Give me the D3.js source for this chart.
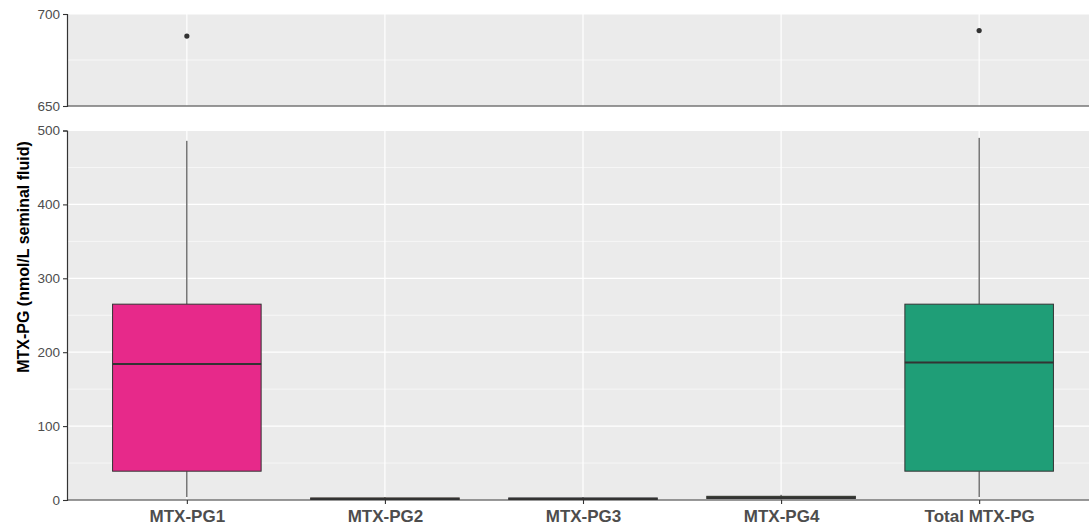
<!DOCTYPE html>
<html>
<head>
<meta charset="utf-8">
<script src="https://cdn.jsdelivr.net/npm/d3@7"></script>
<style>
  html, body { margin: 0; padding: 0; background: #fff; }
  svg { display: block; font-family: "Liberation Sans", Arial, sans-serif; }
</style>
</head>
<body>
<svg id="chart" width="1089" height="527"></svg>
<script>
// ---- data ----
const categories = ["MTX-PG1", "MTX-PG2", "MTX-PG3", "MTX-PG4", "Total MTX-PG"];
const lowerWhisker = [4, 0.3, 0.3, 0.8, 4];
const q1 = [39, 0.8, 0.8, 2, 39];
const median = [184, 1.5, 1.5, 3.5, 186];
const q3 = [265, 2.8, 2.8, 5, 265];
const upperWhisker = [486, 4, 4, 7, 490];
const outliers = [[688], [], [], [], [691]];
const fills = ["#E7298A", "#D95F02", "#7570B3", "#66A61E", "#1F9E77"];
const lowerTicks = [0, 100, 200, 300, 400, 500];
const lowerMinor = [50, 150, 250, 350, 450];
const upperTicks = [650, 700];
const upperMinor = [675];
const yTitle = "MTX-PG (nmol/L seminal fluid)";

// ---- layout ----
const svg = d3.select("#chart");
const left = 67;
const x = d3.scalePoint().domain(categories).range([68, 1098]).padding(0.6);
const step = x.step();
const boxW = step * 0.75;
const right = 1098;

const yTop = d3.scaleLinear().domain([650, 700]).range([106, 14]);
const yBot = d3.scaleLinear().domain([0, 500]).range([500, 130.5]);

const panelBg = "#EBEBEB";
const axisCol = "#333333";
const tickText = "#4D4D4D";

function panel(y, majors, minors) {
  const [y0, y1] = y.range();
  const g = svg.append("g");
  g.append("rect").attr("x", left).attr("y", y1).attr("width", right - left).attr("height", y0 - y1).attr("fill", panelBg);
  g.selectAll(".mn").data(minors).join("line")
    .attr("x1", left).attr("x2", right).attr("y1", d => y(d)).attr("y2", d => y(d))
    .attr("stroke", "#fff").attr("stroke-width", 0.6);
  g.selectAll(".mj").data(majors).join("line")
    .attr("x1", left).attr("x2", right).attr("y1", d => y(d)).attr("y2", d => y(d))
    .attr("stroke", "#fff").attr("stroke-width", 1.2);
  g.selectAll(".vx").data(categories).join("line")
    .attr("x1", d => x(d)).attr("x2", d => x(d)).attr("y1", y1).attr("y2", y0)
    .attr("stroke", "#fff").attr("stroke-width", 1.2);
  return g;
}

panel(yTop, upperTicks, upperMinor);
panel(yBot, lowerTicks, lowerMinor);

// ---- boxes (lower panel) ----
const data = categories.map((c, i) => ({
  c, lw: lowerWhisker[i], q1: q1[i], med: median[i], q3: q3[i], uw: upperWhisker[i], out: outliers[i], fill: fills[i]
}));
const gb = svg.append("g");
const bg = gb.selectAll("g").data(data).join("g");
bg.append("line")
  .attr("x1", d => x(d.c)).attr("x2", d => x(d.c))
  .attr("y1", d => yBot(Math.min(d.uw, 500))).attr("y2", d => yBot(d.q3))
  .attr("stroke", axisCol).attr("stroke-width", 1);
bg.append("line")
  .attr("x1", d => x(d.c)).attr("x2", d => x(d.c))
  .attr("y1", d => yBot(d.q1)).attr("y2", d => yBot(d.lw))
  .attr("stroke", axisCol).attr("stroke-width", 1);
bg.append("rect")
  .attr("x", d => x(d.c) - boxW / 2).attr("width", boxW)
  .attr("y", d => yBot(d.q3)).attr("height", d => Math.max(yBot(d.q1) - yBot(d.q3), 0.5))
  .attr("fill", d => d.fill).attr("stroke", axisCol).attr("stroke-width", 1);
bg.append("line")
  .attr("x1", d => x(d.c) - boxW / 2).attr("x2", d => x(d.c) + boxW / 2)
  .attr("y1", d => yBot(d.med)).attr("y2", d => yBot(d.med))
  .attr("stroke", axisCol).attr("stroke-width", 2);

// ---- outliers (upper panel) ----
const pts = data.flatMap(d => d.out.map(v => ({ c: d.c, v })));
svg.append("g").selectAll("circle").data(pts).join("circle")
  .attr("cx", d => x(d.c)).attr("cy", d => yTop(d.v)).attr("r", 2.6)
  .attr("fill", axisCol);

// ---- axes ----
function yAxis(y, ticks) {
  const g = svg.append("g").attr("transform", `translate(${left},0)`)
    .call(d3.axisLeft(y).tickValues(ticks).tickSize(4).tickPadding(3).tickFormat(d3.format("d")));
  g.select(".domain").attr("stroke", axisCol).attr("stroke-width", 1.2);
  g.selectAll(".tick line").attr("stroke", axisCol).attr("stroke-width", 1.1);
  g.selectAll(".tick text").attr("fill", tickText).attr("font-size", 13.5).attr("font-family", "Liberation Sans, Arial, sans-serif");
  return g;
}
yAxis(yTop, upperTicks);
yAxis(yBot, lowerTicks);

// top panel bottom axis line (no labels)
const gxt = svg.append("g").attr("transform", `translate(0,${yTop.range()[0]})`)
  .call(d3.axisBottom(x).tickSize(0).tickFormat(""));
gxt.select(".domain").attr("stroke", axisCol).attr("stroke-width", 1.2).attr("d", `M${left},0H${right}`);

// bottom axis
const gx = svg.append("g").attr("transform", `translate(0,${yBot.range()[0]})`)
  .call(d3.axisBottom(x).tickSize(4).tickPadding(6));
gx.select(".domain").attr("stroke", axisCol).attr("stroke-width", 1.2).attr("d", `M${left},0H${right}`);
gx.selectAll(".tick line").attr("stroke", axisCol).attr("stroke-width", 1.1);
gx.selectAll(".tick text").attr("fill", tickText).attr("font-size", 17).attr("font-weight", "bold")
  .attr("font-family", "Liberation Sans, Arial, sans-serif");

// y title (centred over whole plot height)
svg.append("text")
  .attr("transform", `translate(29,${(yTop.range()[1] + yBot.range()[0]) / 2}) rotate(-90)`)
  .attr("text-anchor", "middle")
  .attr("font-size", 16).attr("font-weight", "bold").attr("fill", "#000")
  .text(yTitle);
</script>
</body>
</html>
